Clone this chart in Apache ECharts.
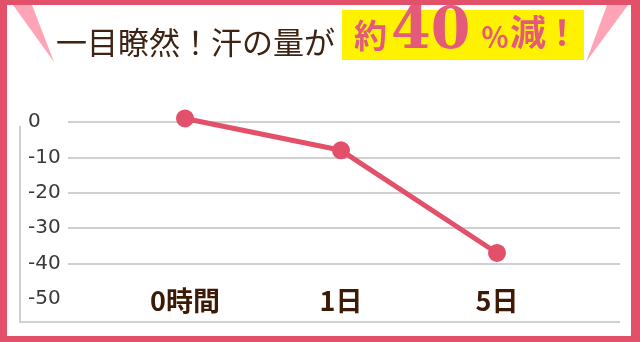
<!DOCTYPE html>
<html>
<head>
<meta charset="utf-8">
<script src="https://cdn.jsdelivr.net/npm/echarts@6/dist/echarts.min.js"></script>
<style>
html,body{margin:0;padding:0;background:#fff;}
#c{width:640px;height:342px;}
</style>
</head>
<body>
<div id="c"></div>
<script>
var categories = ['0時間', '1日', '5日'];
var sweatValues = [1, -8, -37];
var yTicks = { min: -50, max: 0, interval: 10 };

var FRAME = '#e2506a';
var PINK = '#ffa3b6';
var ACCENT = '#e45a7a';

var chart = echarts.init(document.getElementById('c'), null, { renderer: 'canvas' });
chart.setOption({
  backgroundColor: '#ffffff',
  animation: false,
  grid: [
    { left: 68, right: 20, top: 122, height: 177 },
    { left: 107, width: 468, top: 122, height: 177 }
  ],
  xAxis: [
    { type: 'category', gridIndex: 0, data: categories, show: false },
    {
      type: 'category', gridIndex: 1, data: categories, boundaryGap: true,
      axisLine: { show: false }, axisTick: { show: false },
      axisLabel: {
        margin: 2, verticalAlign: 'middle',
        fontFamily: 'Noto Sans CJK JP', fontWeight: 'bold', fontSize: 27, color: '#3d1a05'
      }
    }
  ],
  yAxis: [
    {
      type: 'value', gridIndex: 0, min: yTicks.min, max: yTicks.max, interval: yTicks.interval,
      axisLine: { show: false }, axisTick: { show: false },
      axisLabel: {
        align: 'left', margin: 40,
        fontFamily: 'DejaVu Sans', fontSize: 20, color: '#3a3a3a'
      },
      splitLine: { show: true, showMinLine: false, lineStyle: { color: '#d0d0d0', width: 2 } }
    },
    {
      type: 'value', gridIndex: 1, min: yTicks.min, max: yTicks.max, interval: yTicks.interval,
      show: false, splitLine: { show: false }
    }
  ],
  series: [{
    type: 'line',
    xAxisIndex: 1, yAxisIndex: 1,
    data: sweatValues,
    clip: false,
    symbol: 'circle', symbolSize: 18,
    lineStyle: { color: FRAME, width: 5 },
    itemStyle: { color: FRAME },
    z: 5
  }],
  graphic: [
    { type: 'rect', shape: { x: 0, y: 0, width: 640, height: 5 }, style: { fill: FRAME }, z: 100 },
    { type: 'rect', shape: { x: 0, y: 336, width: 640, height: 6 }, style: { fill: FRAME }, z: 100 },
    { type: 'rect', shape: { x: 0, y: 0, width: 7, height: 342 }, style: { fill: FRAME }, z: 100 },
    { type: 'rect', shape: { x: 631, y: 0, width: 9, height: 342 }, style: { fill: FRAME }, z: 100 },
    { type: 'polygon', shape: { points: [[13, 5], [32, 5], [54, 62]] }, style: { fill: PINK }, z: 90 },
    { type: 'polygon', shape: { points: [[607, 5], [628, 5], [586, 62]] }, style: { fill: PINK }, z: 90 },
    { type: 'polyline', shape: { points: [[20, 126], [20, 322], [620, 322]] }, style: { stroke: '#d0d0d0', lineWidth: 2, fill: null }, z: 1 },
    { type: 'text', x: 56, y: 42, style: { text: '一目瞭然！汗の量が', fontFamily: 'Noto Sans CJK JP', fontSize: 31, fill: '#3d2314', verticalAlign: 'middle', textAlign: 'left' }, z: 50 },
    { type: 'rect', shape: { x: 342, y: 10, width: 242, height: 50 }, style: { fill: '#fff200' }, z: 40 },
    { type: 'text', x: 354, y: 35, style: { text: '約', fontFamily: 'Noto Sans CJK JP', fontWeight: 'bold', fontSize: 33, fill: ACCENT, verticalAlign: 'middle' }, z: 50 },
    { type: 'text', x: 391, y: 33, style: { text: '40', fontFamily: 'DejaVu Serif', fontWeight: 'bold', fontSize: 57, fill: ACCENT, verticalAlign: 'middle' }, z: 50 },
    { type: 'text', x: 481, y: 37, style: { text: '％', fontFamily: 'Noto Sans CJK JP', fontWeight: 'bold', fontSize: 28, fill: ACCENT, verticalAlign: 'middle' }, z: 50 },
    { type: 'text', x: 510, y: 32, style: { text: '減', fontFamily: 'Noto Sans CJK JP', fontWeight: 'bold', fontSize: 36, fill: ACCENT, verticalAlign: 'middle' }, z: 50 },
    { type: 'text', x: 545, y: 32, style: { text: '！', fontFamily: 'Noto Sans CJK JP', fontWeight: 'bold', fontSize: 34, fill: ACCENT, verticalAlign: 'middle' }, z: 50 }
  ]
});
</script>
</body>
</html>
